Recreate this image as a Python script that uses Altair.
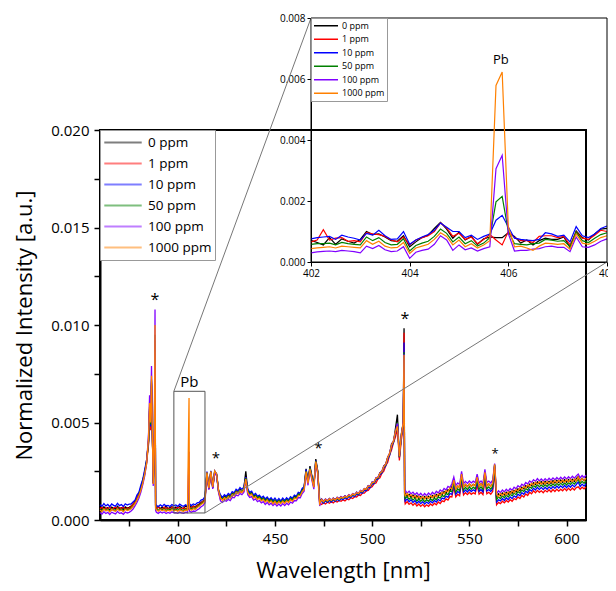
import altair as alt
import pandas as pd

SERIES = ["0 ppm", "1 ppm", "10 ppm", "50 ppm", "100 ppm", "1000 ppm"]
COLORS = ["#000000", "#ff0000", "#0000ff", "#008000", "#8000ff", "#ff8000"]

# main spectrum: 1 nm grid 360..610, values in units of 1e-5
GRID_WL = list(range(360, 611))
main_0 = [62,55,68,58,64,52,66,60,57,70,59,63,54,67,61,65,
          72,78,98,112,138,160,205,240,310,
          400,470,400,420,
          62,70,58,66,60,72,56,64,68,59,66,61,70,63,58,72,66,78,64,72,68,76,82,90,98,108,
          245,165,250,170,250,235,150,
          118,110,122,116,128,124,138,136,150,146,158,150,162,250,
          150,136,142,124,128,116,120,108,114,102,110,98,106,96,102,92,100,94,103,95,
          106,98,112,104,120,118,134,132,156,168,262,196,276,226,178,312,252,95,
          108,96,106,98,110,100,112,104,116,108,120,112,124,116,128,122,134,128,142,134,
          150,146,160,158,176,172,194,190,216,214,242,248,278,286,322,340,392,400,470,540,320,440,500,
          136,122,132,118,128,114,124,110,121,108,120,109,122,112,126,116,131,122,138,130,
          146,138,156,150,170,205,160,174,166,235,170,182,172,184,174,183,176,220,174,186,172,245,176,184,174,188,285,
          118,134,124,138,128,142,132,146,137,152,144,160,150,168,160,176,168,184,176,191,
          182,196,186,197,184,198,186,199,188,202,190,204,192,205,193,207,194,208,196,209,
          198,212,222,200,214,202,215]
main_1 = [58,66,54,63,57,69,52,61,66,55,64,58,68,56,62,59,
          68,84,92,118,130,168,196,250,295,
          390,460,395,410,
          56,64,60,55,66,58,62,54,65,59,57,66,60,55,63,58,61,
          66,62,70,64,74,78,88,94,106,
          238,158,244,164,246,228,146,
          104,114,106,118,112,126,122,138,134,148,142,154,148,220,144,130,134,118,122,110,
          114,102,108,96,104,92,100,88,97,86,96,88,98,90,100,94,106,100,114,112,
          128,128,150,160,250,190,265,215,170,300,245,85,
          80,88,82,92,86,94,88,97,92,100,96,104,98,108,104,114,110,120,118,128,
          126,138,138,150,152,166,170,186,190,210,216,240,250,278,296,334,360,398,425,470,305,410,480,
          82,94,80,88,76,86,72,82,70,80,68,78,70,82,74,86,78,92,84,98,
          94,108,102,120,118,170,118,132,124,195,128,140,130,142,132,140,134,180,132,142,130,205,134,142,132,146,250,
          78,90,84,96,88,100,92,104,96,110,104,118,110,126,118,134,126,142,134,150,
          140,152,142,150,140,152,144,155,144,156,146,158,148,158,150,162,150,163,152,164,
          154,166,170,158,168,160,170]
main_10 = [78,70,84,72,80,68,82,75,71,86,74,79,69,83,77,81,
           82,92,102,128,142,178,208,258,308,
           410,480,410,430,
           76,68,78,70,80,72,75,69,79,73,77,70,81,74,70,78,72,
           84,74,82,78,88,90,102,106,120,
           248,168,252,172,252,236,152,
           128,116,130,122,136,128,146,140,158,150,166,156,170,220,160,142,148,128,136,122,
           128,114,122,108,118,104,114,100,112,98,110,98,112,100,114,104,120,112,128,122,
           142,138,162,170,258,200,268,222,180,305,248,100,
           96,86,98,90,100,92,104,96,106,98,110,104,114,108,120,114,126,120,132,128,
           142,138,152,150,166,166,184,186,206,210,232,240,266,278,310,332,375,398,445,490,322,425,495,
           96,108,94,104,90,100,86,96,84,94,82,92,84,96,88,100,92,106,98,112,
           108,122,116,136,132,185,132,146,138,215,142,154,144,156,146,155,148,195,146,156,144,225,148,156,146,160,270,
           92,104,98,110,100,114,104,118,110,124,116,132,124,140,132,148,140,156,148,163,
           154,168,156,167,156,168,158,170,160,172,162,174,164,175,165,178,166,178,168,180,
           170,182,195,172,184,174,186]
main_50 = [54,48,58,50,56,46,57,52,49,60,51,55,47,58,53,56,
           62,72,86,104,126,156,192,238,300,
           410,490,405,440,
           56,50,58,52,57,49,56,51,58,53,55,50,57,52,50,56,54,
           62,56,62,60,68,74,84,90,102,
           240,160,245,165,245,230,146,
           116,106,118,112,124,118,134,130,146,140,154,146,158,215,148,132,138,118,126,112,
           118,104,112,98,108,94,104,90,102,88,100,90,102,92,104,94,110,102,118,114,
           132,130,152,162,250,192,266,218,172,302,246,88,
           102,92,104,96,106,98,108,100,112,104,116,110,120,114,126,120,132,126,138,134,
           148,144,158,156,172,172,190,192,212,216,238,246,272,284,318,338,382,404,452,500,325,432,498,
           110,120,106,116,102,112,98,108,96,106,94,104,96,108,100,112,104,118,112,126,
           120,136,130,148,146,195,144,160,150,225,154,168,156,170,158,168,160,210,158,170,156,235,160,170,158,172,280,
           104,118,110,124,114,128,118,132,124,138,130,146,138,154,146,162,154,170,162,177,
           168,182,170,181,170,182,172,184,174,186,176,188,178,189,179,191,180,192,182,194,
           184,196,210,186,198,188,200]
main_100 = [38,30,42,33,39,28,40,35,31,44,34,37,29,41,36,39,
            46,56,72,90,112,142,182,226,292,
            450,520,420,470,
            40,34,42,36,41,33,39,35,42,37,38,34,41,36,34,40,38,
            46,40,46,44,52,58,68,74,88,
            236,155,240,160,242,226,140,
            98,90,100,96,106,100,116,114,128,124,136,130,142,205,130,116,120,102,108,94,
            100,88,94,80,90,78,86,74,84,72,82,72,84,74,86,78,92,86,100,98,
            114,114,136,148,240,178,255,205,158,295,235,72,
            106,96,108,100,110,102,112,104,116,110,120,114,124,118,130,124,136,130,142,138,
            152,148,162,160,176,176,194,196,216,220,242,250,276,288,322,344,386,408,456,495,330,436,505,
            152,138,148,134,143,130,140,126,137,124,136,125,138,128,142,132,147,138,154,146,
            162,154,172,166,186,220,176,190,182,250,186,198,188,200,190,199,192,235,190,200,188,260,192,200,190,204,290,
            134,150,140,154,144,158,148,162,152,168,160,176,168,184,176,192,184,200,192,207,
            198,212,200,211,200,212,202,214,204,216,206,218,208,219,209,221,210,222,212,224,
            214,226,236,216,228,218,230]
main_1000 = [50,43,56,46,52,41,54,48,45,57,47,51,42,55,49,52,
             58,70,84,102,124,152,188,234,290,
             430,500,410,450,
             52,45,54,47,53,44,51,46,53,48,50,45,52,47,45,51,49,
             58,50,58,54,64,70,80,86,98,
             245,165,250,170,252,236,150,
             112,100,114,106,120,112,130,124,142,134,150,140,154,210,142,126,132,112,120,106,
             112,98,106,92,102,88,98,84,96,82,94,84,96,86,98,90,104,96,112,108,
             126,124,146,156,248,188,262,212,168,300,242,84,
             104,94,106,98,108,100,110,102,114,106,118,112,122,116,128,122,134,128,140,136,
             150,146,160,158,174,174,192,194,214,218,240,248,274,286,320,342,384,406,454,480,326,434,500,
             124,136,120,130,116,126,112,122,109,120,108,121,110,124,114,128,118,134,126,142,
             134,150,144,164,160,205,158,176,166,235,168,184,170,186,172,184,174,220,172,186,170,245,174,186,172,190,285,
             132,120,136,126,140,130,144,134,150,140,156,148,164,156,172,164,180,172,188,179,
             194,184,196,184,196,185,198,187,200,189,202,191,204,192,205,194,206,195,208,197,
             210,199,220,200,213,202,214]

# narrow emission lines (extra samples), units of 1e-5
SPIKE_WL = [385.5, 386.5, 387.4, 388.3, 388.6, 405.8, 516.4, 516.7]
spike_0 = [560, 700, 190, 900, 75, 80, 983, 140]
spike_1 = [550, 690, 185, 900, 70, 55, 960, 110]
spike_10 = [570, 710, 200, 920, 85, 153, 910, 120]
spike_50 = [580, 720, 190, 950, 68, 215, 860, 125]
spike_100 = [640, 790, 175, 1080, 50, 350, 850, 140]
spike_1000 = [600, 740, 185, 1000, 60, 626, 846, 135]

# inset 402..408 nm, step 0.125 nm, units of 1e-5
INSET_WL = [402 + 0.125 * i for i in range(49)]
inset_0 = [71,64,56,80,58,76,68,62,74,100,90,92,82,70,68,86,50,66,80,88,110,130,108,78,98,
           72,84,58,76,82,80,80,96,84,62,72,56,70,78,74,74,82,48,102,80,72,92,108,110]
inset_1 = [66,72,106,72,78,80,68,70,66,96,92,90,84,72,66,82,56,72,80,86,100,128,112,84,94,
           74,82,60,74,90,72,56,100,80,70,70,64,84,86,86,80,84,56,98,78,74,88,104,100]
inset_10 = [76,80,82,84,74,88,82,78,72,94,88,104,86,74,76,100,58,72,82,90,104,128,114,100,100,
            80,88,74,84,92,137,153,115,78,74,72,70,74,96,92,84,88,66,116,86,80,92,110,118]
inset_50 = [58,60,60,62,56,64,60,58,56,82,70,80,64,56,58,76,36,54,62,68,84,108,94,66,82,
            60,70,52,62,80,197,215,100,60,58,56,60,62,74,72,68,70,50,98,70,64,78,90,96]
inset_100 = [30,33,35,36,34,38,36,34,30,52,44,54,40,34,36,50,12,32,38,42,58,86,72,38,56,
             40,46,36,44,50,306,350,93,36,38,38,42,44,50,52,48,48,34,82,50,48,56,68,76]
inset_1000 = [44,46,48,50,46,52,50,48,46,70,58,68,52,46,48,64,28,46,52,58,74,96,84,56,72,
              50,60,46,56,70,579,623,115,50,52,46,38,52,62,60,58,60,42,92,62,58,68,80,86]

# annotations
AST_WL = [388.3, 419.6, 472.3, 516.8, 563.2]
AST_V = [0.0114, 0.0033, 0.0038, 0.0104, 0.0035]
AST_SIZE = [16, 15, 15, 16, 13]
PB_BOX = [398, 414, 0.00036, 0.0066]

MAIN_LISTS = [main_0, main_1, main_10, main_50, main_100, main_1000]
SPIKE_LISTS = [spike_0, spike_1, spike_10, spike_50, spike_100, spike_1000]
INSET_LISTS = [inset_0, inset_1, inset_10, inset_50, inset_100, inset_1000]

rows = []
for i, (s, g, sp) in enumerate(zip(SERIES, MAIN_LISTS, SPIKE_LISTS)):
    assert len(g) == len(GRID_WL), (s, len(g))
    for w, v in zip(GRID_WL, g):
        rows.append({"wl": w, "v": v * 1e-5, "series": s, "k": i})
    for w, v in zip(SPIKE_WL, sp):
        rows.append({"wl": w, "v": v * 1e-5, "series": s, "k": i})
main_df = pd.DataFrame(rows).sort_values(["k", "wl"]).reset_index(drop=True)

irows = []
for i, (s, g) in enumerate(zip(SERIES, INSET_LISTS)):
    assert len(g) == len(INSET_WL), (s, len(g))
    for w, v in zip(INSET_WL, g):
        irows.append({"wl": w, "v": v * 1e-5, "series": s, "k": i})
inset_df = pd.DataFrame(irows)

# layout (pixels inside the plot area)
W, H = 486, 390
XD, YD = [360, 610], [0, 0.02]
IX0, IX1, IY0, IY1 = 211, 507, -112, 132   # inset left, right, top, bottom
IXD, IYD = [402, 408], [0, 0.008]

def px_to_main(px, py):
    return XD[0] + px / W * (XD[1] - XD[0]), YD[1] * (H - py) / H

tlx, tly = px_to_main(IX0, IY0)
brx, bry = px_to_main(IX1, IY1)

FONT = "Open Sans"
xs = alt.Scale(domain=XD, nice=False, zero=False)
ys = alt.Scale(domain=YD, nice=False, zero=False)
ixs = alt.Scale(domain=IXD, range=[IX0, IX1], nice=False, zero=False)
iys = alt.Scale(domain=IYD, range=[IY1, IY0], nice=False, zero=False)
cs = alt.Scale(domain=SERIES, range=COLORS)

main_lines = alt.Chart(main_df).mark_line(strokeWidth=1.3).encode(
    x=alt.X("wl:Q", scale=xs, axis=alt.Axis(
        values=[375, 400, 425, 450, 475, 500, 525, 550, 575, 600],
        labelExpr="datum.value % 50 == 0 ? datum.label : ''", format="d",
        title="Wavelength [nm]", titleFontSize=22, titleFontWeight="normal",
        titlePadding=14, labelFontSize=15, labelPadding=5, tickSize=6,
        tickWidth=1.5, tickColor="black", domainColor="black", domainWidth=2,
        grid=False, labelColor="black", titleColor="black", labelFlush=False,
        labelOverlap=False, titleFont=FONT, labelFont=FONT)),
    y=alt.Y("v:Q", scale=ys, axis=alt.Axis(
        values=[0, 0.0025, 0.005, 0.0075, 0.01, 0.0125, 0.015, 0.0175, 0.02],
        labelExpr="round(datum.value * 10000) % 50 == 0 ? format(datum.value, '.3f') : ''",
        title="Normalized Intensity [a.u.]", titleFontSize=22, titleFontWeight="normal",
        titlePadding=14, labelFontSize=15, labelPadding=5, tickSize=6,
        tickWidth=1.5, tickColor="black", domainColor="black", domainWidth=2,
        grid=False, labelColor="black", titleColor="black", labelFlush=False,
        labelOverlap=False, titleFont=FONT, labelFont=FONT)),
    color=alt.Color("series:N", scale=cs, sort=SERIES, legend=alt.Legend(
        orient="none", legendX=0, legendY=0, title=None, symbolType="stroke",
        symbolSize=1400, symbolStrokeWidth=2, symbolOpacity=0.5,
        labelFontSize=13.5, labelFont=FONT, labelColor="black",
        fillColor="white", strokeColor="#999999", padding=3,
        clipHeight=19, rowPadding=2, labelOffset=5)),
    detail="k:O",
)

box_df = pd.DataFrame({"wl": [PB_BOX[0]], "wl2": [PB_BOX[1]], "v": [PB_BOX[2]], "v2": [PB_BOX[3]]})
pb_box = alt.Chart(box_df).mark_rect(filled=False, stroke="#555555", strokeWidth=1).encode(
    x=alt.X("wl:Q", scale=xs), x2="wl2:Q", y=alt.Y("v:Q", scale=ys), y2="v2:Q")

pb_df = pd.DataFrame({"wl": [(PB_BOX[0] + PB_BOX[1]) / 2], "v": [PB_BOX[3]], "t": ["Pb"]})
pb_text = alt.Chart(pb_df).mark_text(baseline="bottom", dy=-1, fontSize=15, font=FONT, color="black").encode(
    x=alt.X("wl:Q", scale=xs), y=alt.Y("v:Q", scale=ys), text="t:N")

ast_df = pd.DataFrame({"wl": AST_WL, "v": AST_V, "s": AST_SIZE, "t": ["*"] * len(AST_WL)})
ast = alt.Chart(ast_df).mark_text(baseline="middle", dy=2, font=FONT, color="black").encode(
    x=alt.X("wl:Q", scale=xs), y=alt.Y("v:Q", scale=ys), text="t:N",
    size=alt.Size("s:Q", scale=None, legend=None))

conn_df = pd.DataFrame({"wl": [PB_BOX[0], PB_BOX[1]], "v": [PB_BOX[3], PB_BOX[2]],
                        "wl2": [tlx, brx], "v2": [tly, bry]})
conn = alt.Chart(conn_df).mark_rule(stroke="#777777", strokeWidth=1).encode(
    x=alt.X("wl:Q", scale=xs), x2="wl2:Q", y=alt.Y("v:Q", scale=ys), y2="v2:Q")

inset_lines = alt.Chart(inset_df).mark_line(strokeWidth=1.2).encode(
    x=alt.X("wl:Q", scale=ixs, axis=alt.Axis(
        orient="bottom", offset=-(H - IY1), values=[402, 404, 406, 408], format="d",
        title=None, labelFontSize=10, labelPadding=2, tickSize=4, tickColor="black",
        domainColor="black", domainWidth=1, grid=False, labelColor="black",
        labelFlush=False, labelFont=FONT)),
    y=alt.Y("v:Q", scale=iys, axis=alt.Axis(
        orient="left", offset=-IX0, values=[0, 0.002, 0.004, 0.006, 0.008], format=".3f",
        title=None, labelFontSize=10, labelPadding=2, tickSize=4, tickColor="black",
        domainColor="black", domainWidth=1, grid=False, labelColor="black",
        labelFlush=False, labelFont=FONT)),
    color=alt.Color("series:N", scale=cs, sort=SERIES, legend=alt.Legend(
        orient="none", legendX=IX0, legendY=IY0, title=None, symbolType="stroke",
        symbolSize=576, symbolStrokeWidth=1.5, labelFontSize=9, labelFont=FONT,
        labelColor="black", fillColor="white", strokeColor="#999999", padding=2,
        clipHeight=11.5, rowPadding=1.5, labelOffset=3)),
    detail="k:O",
)

iframe_df = pd.DataFrame({"wl": [IXD[0]], "wl2": [IXD[1]], "v": [IYD[0]], "v2": [IYD[1]]})
inset_frame = alt.Chart(iframe_df).mark_rect(filled=False, stroke="black", strokeWidth=1).encode(
    x=alt.X("wl:Q", scale=ixs), x2="wl2:Q", y=alt.Y("v:Q", scale=iys), y2="v2:Q")

ipb_df = pd.DataFrame({"wl": [405.85], "v": [0.0064], "t": ["Pb"]})
inset_pb = alt.Chart(ipb_df).mark_text(baseline="bottom", fontSize=13, font=FONT, color="black").encode(
    x=alt.X("wl:Q", scale=ixs), y=alt.Y("v:Q", scale=iys), text="t:N")

main_layer = alt.layer(main_lines, pb_box, pb_text, ast, conn)
inset_layer = alt.layer(inset_lines, inset_frame, inset_pb)

chart = alt.layer(main_layer, inset_layer).resolve_scale(
    x="independent", y="independent", color="independent"
).properties(
    width=W, height=H,
    autosize=alt.AutoSizeParams(type="none"),
    padding={"left": 92, "top": 122, "right": 22, "bottom": 63},
).configure(font=FONT).configure_view(stroke="black", strokeWidth=2)

chart.save("out.html", embed_options={"renderer": "svg", "actions": False})
